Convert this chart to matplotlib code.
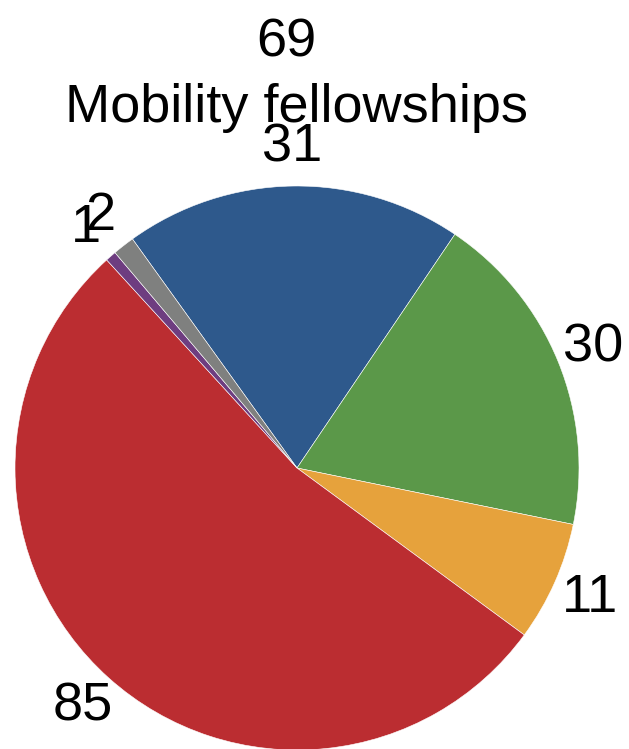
import numpy as np
import matplotlib
matplotlib.use("Agg")
import matplotlib.pyplot as plt

plt.rcParams['font.family'] = ['Liberation Sans', 'DejaVu Sans']

# fellowship counts, drawn clockwise from the blue wedge
labels = ["31", "30", "11", "85", "1", "2"]
counts = [31, 30, 11, 85, 1, 2]
colors = ["#2E598C", "#5B9849", "#E6A23C", "#BB2D31", "#6E3D80", "#7F807F"]
title = "Mobility fellowships"
extra_label = "69"

fig = plt.figure(figsize=(6.29, 7.49), dpi=100)
ax = fig.add_axes([15 / 629, -1 / 749, 564 / 629, 564 / 749])
ax.pie(counts, labels=labels, colors=colors, startangle=125.7,
       counterclock=False, radius=1, labeldistance=1.135,
       wedgeprops=dict(edgecolor="white", linewidth=0.4),
       textprops=dict(fontsize=39, ha="center", va="center"))
ax.set_xlim(-1, 1)
ax.set_ylim(-1, 1)
ax.set_aspect("equal")
ax.axis("off")

fig.text(0.4714, 0.837, title, fontsize=39, ha="center", va="baseline")
fig.text(0.4555, 0.924, extra_label, fontsize=39, ha="center", va="baseline")

fig.savefig("out.png", dpi=100)
